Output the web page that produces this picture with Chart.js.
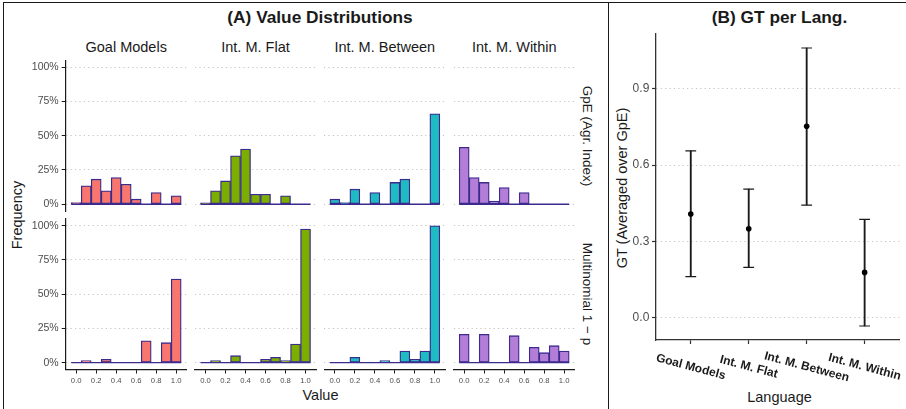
<!DOCTYPE html>
<html><head><meta charset="utf-8">
<script src="https://cdn.jsdelivr.net/npm/chart.js@4.4.1/dist/chart.umd.min.js"></script>
<style>
html,body{margin:0;padding:0;background:#fff;}
#wrap{position:relative;width:906px;height:409px;overflow:hidden;background:#fff;font-family:"Liberation Sans",Arial,Helvetica,sans-serif;}
#wrap canvas{position:absolute;left:0;top:0;}
.t{position:absolute;white-space:nowrap;transform:translate(-50%,-50%);color:#1a1a1a;line-height:1;}
.b{font-weight:bold;}
.fr{position:absolute;background:#1a1a1a;}
</style></head><body>
<div id="wrap">
  <div class="fr" style="left:3px;top:2px;width:903px;height:1px;"></div>
  <div class="fr" style="left:3px;top:2px;width:1px;height:407px;"></div>
  <div class="fr" style="left:608px;top:2px;width:1px;height:407px;"></div>

  <div class="t b" style="left:320px;top:17.5px;font-size:17.3px;">(A) Value Distributions</div>
  <div class="t b" style="left:779.5px;top:17.5px;font-size:17.3px;">(B) GT per Lang.</div>

  <div class="t" style="left:126.2px;top:47px;font-size:14.5px;">Goal Models</div>
  <div class="t" style="left:255.5px;top:47px;font-size:14.5px;">Int. M. Flat</div>
  <div class="t" style="left:384.8px;top:47px;font-size:14.5px;">Int. M. Between</div>
  <div class="t" style="left:514.2px;top:47px;font-size:14.5px;">Int. M. Within</div>

  <div class="t" style="left:587px;top:136px;font-size:13.5px;transform:translate(-50%,-50%) rotate(90deg);">GpE (Agr. Index)</div>
  <div class="t" style="left:587px;top:294px;font-size:13.5px;transform:translate(-50%,-50%) rotate(90deg);">Multinomial 1 − p</div>

  <div class="t" style="left:17px;top:215px;font-size:14.5px;transform:translate(-50%,-50%) rotate(-90deg);">Frequency</div>
  <div class="t" style="left:320.5px;top:395px;font-size:14.5px;">Value</div>

  <div class="t" style="left:622px;top:188px;font-size:14.5px;transform:translate(-50%,-50%) rotate(-90deg);">GT (Averaged over GpE)</div>
  <div class="t" style="left:779.5px;top:397px;font-size:14.5px;">Language</div>
</div>
<script>
// ---------- data ----------
const bins = [0.0, 0.1, 0.2, 0.3, 0.4, 0.5, 0.6, 0.7, 0.8, 0.9, 1.0];
const xTickValues = [0.0, 0.2, 0.4, 0.6, 0.8, 1.0];
const yTickValues = [0, 25, 50, 75, 100];

const facets = ['Goal Models', 'Int. M. Flat', 'Int. M. Between', 'Int. M. Within'];
const rows = ['GpE (Agr. Index)', 'Multinomial 1 − p'];

// Frequency (%) per bin, row "GpE (Agr. Index)"
const goalGpE    = [1.2, 13.4, 18.3, 9.8, 19.5, 14.6, 3.7, 0, 8.5, 0, 6.1];
const flatGpE    = [1.0, 9.8, 17.0, 35.4, 40.2, 7.3, 7.3, 0, 6.1, 0, 0];
const betweenGpE = [3.7, 1.2, 11.0, 0, 8.5, 0, 15.9, 18.3, 0, 0, 65.9];
const withinGpE  = [41.5, 19.5, 15.9, 2.4, 12.2, 0, 8.5, 0, 0, 0, 0];
// Frequency (%) per bin, row "Multinomial 1 − p"
const goalMult    = [0, 1.5, 0, 2.5, 0, 0, 0, 16.0, 0, 14.6, 61.1];
const flatMult    = [0, 1.5, 0, 5.1, 0, 0, 2.4, 3.9, 1.5, 13.6, 97.6];
const betweenMult = [0, 0, 3.9, 0, 0, 1.5, 0, 8.5, 2.4, 8.5, 100];
const withinMult  = [20.7, 0, 20.7, 0, 0, 19.7, 0, 11.2, 7.3, 12.4, 8.5];

// Panel B
const languages = ['Goal Models', 'Int. M. Flat', 'Int. M. Between', 'Int. M. Within'];
const gtMean  = [0.408, 0.350, 0.753, 0.178];
const gtLower = [0.161, 0.198, 0.443, -0.033];
const gtUpper = [0.656, 0.506, 1.061, 0.387];
const gtTicks = [0.0, 0.3, 0.6, 0.9];

// ---------- style ----------
const FAM = '"Liberation Sans", Arial, Helvetica, sans-serif';
Chart.defaults.font.family = FAM;
const fills = ['#F8766D', '#7CAE00', '#1FBBC2', '#B47ED8'];
const outline = '#3a2b8c';
const gridCol = '#c4c4c4';
const axisCol = '#1a1a1a';
const tickTxt = '#4d4d4d';
const PW = 906, PH = 409;

const wrap = document.getElementById('wrap');
function newCanvas() {
  const c = document.createElement('canvas');
  c.width = PW; c.height = PH;
  c.style.width = PW + 'px'; c.style.height = PH + 'px';
  wrap.appendChild(c);
  return c;
}

const baselinePlugin = {
  id: 'baseline',
  afterDatasetsDraw(chart) {
    const xs = chart.scales.x, ys = chart.scales.y, ctx = chart.ctx;
    const half = (bins[1] - bins[0]) / 2;
    const x0 = xs.getPixelForValue(bins[0] - half);
    const x1 = xs.getPixelForValue(bins[bins.length - 1] + half);
    const y0 = ys.getPixelForValue(0);
    ctx.save();
    ctx.strokeStyle = outline; ctx.lineWidth = 1.3;
    ctx.beginPath(); ctx.moveTo(x0, y0); ctx.lineTo(x1, y0); ctx.stroke();
    ctx.restore();
  }
};

const panelData = [
  [goalGpE, flatGpE, betweenGpE, withinGpE],
  [goalMult, flatMult, betweenMult, withinMult]
];

function makeHist(values, col, row) {
  const L = 65.7 + col * 129.33, W = 121;
  const T = row === 0 ? 60.3 : 218.9, H = row === 0 ? 150.8 : 150.6;
  const yW = col === 0 ? 40 : 0;
  const xH = row === 1 ? 24 : 0;
  new Chart(newCanvas(), {
    type: 'bar',
    data: {
      datasets: [{
        data: bins.map((b, i) => ({x: b, y: values[i]})),
        backgroundColor: fills[col],
        borderColor: outline,
        borderWidth: 1.3,
        borderSkipped: false,
        barPercentage: 1,
        categoryPercentage: 1
      }]
    },
    options: {
      responsive: false, animation: false, events: [],
      layout: {padding: {left: L - yW, right: PW - L - W, top: T, bottom: PH - T - H - xH}},
      plugins: {legend: {display: false}, tooltip: {enabled: false}},
      scales: {
        x: {
          type: 'linear', min: -0.105, max: 1.105, offset: false,
          display: row === 1,
          grid: {display: true, drawOnChartArea: false, drawTicks: true, tickLength: 4, tickColor: axisCol, tickWidth: 1, offset: false},
          border: {display: true, color: axisCol, width: 1.2},
          ticks: {font: {size: 7.7}, color: tickTxt, padding: 2.5, maxRotation: 0, minRotation: 0, autoSkip: false,
                  callback: v => Number(v).toFixed(1)},
          afterBuildTicks: s => { s.ticks = xTickValues.map(v => ({value: v})); },
          afterFit: s => { s.height = xH; }
        },
        y: {
          type: 'linear', min: -5, max: 105, offset: false, display: true,
          grid: {display: true, drawOnChartArea: true, color: gridCol, lineWidth: 1,
                 drawTicks: col === 0, tickLength: 4, tickColor: axisCol, tickWidth: 1, tickBorderDash: []},
          border: {display: col === 0, color: axisCol, width: 1.2, dash: [1.2, 3.2]},
          ticks: {display: col === 0, font: {size: 10.5}, color: tickTxt, padding: 3,
                  callback: v => v + '%'},
          afterBuildTicks: s => { s.ticks = yTickValues.map(v => ({value: v})); },
          afterFit: s => { s.width = yW; }
        }
      }
    },
    plugins: [baselinePlugin]
  });
}

for (let r = 0; r < 2; r++) for (let c = 0; c < 4; c++) makeHist(panelData[r][c], c, r);

// ---------- Panel B ----------
const rotLabels = {
  id: 'rotLabels',
  afterDraw(chart) {
    const xs = chart.scales.x, ctx = chart.ctx;
    ctx.save();
    ctx.font = 'bold 12px ' + FAM;
    ctx.fillStyle = '#1a1a1a';
    ctx.textAlign = 'center'; ctx.textBaseline = 'middle';
    languages.forEach((l, i) => {
      const px = xs.getPixelForValue(i + 1);
      ctx.save();
      ctx.translate(px, xs.top + 27);
      ctx.rotate(15 * Math.PI / 180);
      ctx.fillText(l, 0, 0);
      ctx.restore();
    });
    ctx.restore();
  }
};

const ebCol = '#1a1a1a';
new Chart(newCanvas(), {
  type: 'bar',
  data: {
    datasets: [
      {type: 'bar', data: languages.map((l, i) => ({x: i + 1, y: [gtLower[i], gtUpper[i]]})),
       backgroundColor: ebCol, borderWidth: 0, barThickness: 1.2, order: 3},
      {type: 'line', data: languages.map((l, i) => ({x: i + 1, y: gtUpper[i]})), showLine: false,
       pointStyle: 'line', pointRadius: 5.4, pointBorderWidth: 1.2, pointBorderColor: ebCol, borderColor: ebCol, order: 2},
      {type: 'line', data: languages.map((l, i) => ({x: i + 1, y: gtLower[i]})), showLine: false,
       pointStyle: 'line', pointRadius: 5.4, pointBorderWidth: 1.2, pointBorderColor: ebCol, borderColor: ebCol, order: 2},
      {type: 'line', data: languages.map((l, i) => ({x: i + 1, y: gtMean[i]})), showLine: false,
       pointStyle: 'circle', pointRadius: 2.8, pointBackgroundColor: '#000', pointBorderWidth: 0, order: 1}
    ]
  },
  options: {
    responsive: false, animation: false, events: [],
    layout: {padding: {left: 610, right: PW - 903.4, top: 34, bottom: 0}},
    plugins: {legend: {display: false}, tooltip: {enabled: false}},
    scales: {
      x: {
        type: 'linear', min: 0.4, max: 4.6, offset: false,
        grid: {display: true, drawOnChartArea: false, drawTicks: true, tickLength: 4, tickColor: '#333', tickWidth: 1.2, offset: false},
        border: {display: true, color: '#333', width: 1.3},
        ticks: {callback: () => '', autoSkip: false, maxRotation: 0},
        afterBuildTicks: s => { s.ticks = languages.map((l, i) => ({value: i + 1})); },
        afterFit: s => { s.height = 69; }
      },
      y: {
        type: 'linear', min: -0.088, max: 1.116, offset: false,
        grid: {display: true, drawOnChartArea: true, color: gridCol, lineWidth: 1,
               drawTicks: true, tickLength: 4, tickColor: '#333', tickWidth: 1.2, tickBorderDash: []},
        border: {display: true, color: '#333', width: 1.3, dash: [1.2, 3.2]},
        ticks: {font: {size: 12}, color: tickTxt, padding: 2.7, callback: v => Number(v).toFixed(1)},
        afterBuildTicks: s => { s.ticks = gtTicks.map(v => ({value: v})); },
        afterFit: s => { s.width = 46; }
      }
    }
  },
  plugins: [rotLabels]
});
</script>
</body></html>
